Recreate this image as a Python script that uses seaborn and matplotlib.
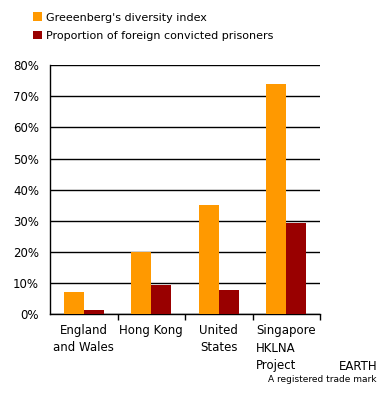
import matplotlib
matplotlib.use('Agg')
import matplotlib.pyplot as plt
import pandas as pd
import seaborn as sns
from matplotlib.patches import Patch
from matplotlib.ticker import FixedLocator, PercentFormatter

# Data
countries = ['England\nand Wales', 'Hong Kong', 'United\nStates', 'Singapore']
diversity = [7.2, 20.0, 35.0, 74.0]
foreign_prisoners = [1.3, 9.4, 7.8, 29.3]
series_names = ["Greeenberg's diversity index", 'Proportion of foreign convicted prisoners']
colors = ['#FF9900', '#990000']

df = pd.DataFrame({
    'country': countries * 2,
    'value': diversity + foreign_prisoners,
    'series': [series_names[0]] * 4 + [series_names[1]] * 4,
})

sns.set_style('white')
plt.rcParams['font.family'] = ['DejaVu Sans']
plt.rcParams['text.color'] = 'black'
plt.rcParams['xtick.color'] = 'black'
plt.rcParams['ytick.color'] = 'black'

fig = plt.figure(figsize=(3.79, 3.98), dpi=100)
ax = fig.add_axes([50 / 379, 84 / 398, 270 / 379, 248.7 / 398])

sns.barplot(data=df, x='country', y='value', hue='series', palette=colors,
            saturation=1, width=0.59, ax=ax, legend=False, zorder=3,
            linewidth=0, edgecolor='none')

ax.set_ylim(0, 80)
ax.set_xlim(-0.5, 3.5)
ax.set_yticks(range(0, 81, 10))
ax.yaxis.set_major_formatter(PercentFormatter(decimals=0))
ax.grid(axis='y', color='black', linewidth=1)
ax.set_axisbelow(True)
ax.set_xlabel('')
ax.set_ylabel('')

for side in ['top', 'right']:
    ax.spines[side].set_visible(False)
for side in ['left', 'bottom']:
    ax.spines[side].set_color('black')
    ax.spines[side].set_linewidth(1)

ax.tick_params(axis='y', length=0, pad=8, labelsize=8.5)
ax.tick_params(axis='x', which='major', bottom=True, length=0, pad=7, labelsize=8.5)
ax.xaxis.set_minor_locator(FixedLocator([0.5, 1.5, 2.5, 3.5]))
ax.tick_params(axis='x', which='minor', bottom=True, length=4, width=1,
               direction='out', color='black')
for lab in ax.get_xticklabels():
    lab.set_linespacing(1.45)
    lab.set_verticalalignment('top')

handles = [Patch(facecolor=c, edgecolor='none') for c in colors]
fig.legend(handles, series_names, loc='upper left', bbox_to_anchor=(29 / 379, 1 - 8 / 398),
           frameon=False, fontsize=8, handlelength=0.8, handleheight=0.8,
           handletextpad=0.35, labelspacing=0.75, borderaxespad=0)

# trade mark text under the Singapore label
fig.text(256 / 379, 1 - 349 / 398, 'HKLNA', fontsize=8.5, va='center', ha='left')
fig.text(256 / 379, 1 - 366 / 398, 'Project', fontsize=8.5, va='center', ha='left')
fig.text(377 / 379, 1 - 366 / 398, 'EARTH', fontsize=8.5, va='center', ha='right')
fig.text(377 / 379, 1 - 380 / 398, 'A registered trade mark', fontsize=6.5, va='center', ha='right')

fig.savefig('out.png', dpi=100)
